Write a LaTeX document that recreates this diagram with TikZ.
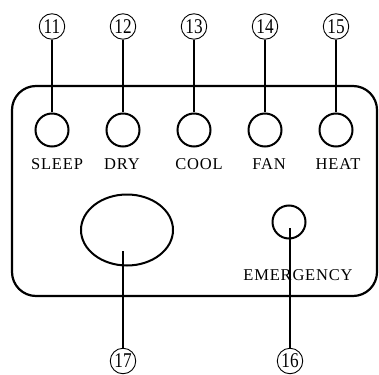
\documentclass[tikz,border=0pt]{standalone}
\usepackage{graphicx}
\usepackage{fontspec}
\setmainfont{Liberation Serif}
\newfontfamily\lblfont[LetterSpace=5]{Liberation Serif}
\usetikzlibrary{shapes.geometric}

\begin{document}
\begin{tikzpicture}[x=1pt, y=-1pt,
    numcirc/.style={draw, circle, line width=0.9pt, minimum size=25.5pt, inner sep=0pt,
                    font=\fontsize{21}{21}\selectfont},
    btn/.style={draw, circle, line width=2pt, minimum size=33pt, inner sep=0pt},
    lbl/.style={font=\lblfont\fontsize{16.5}{18}\selectfont, inner sep=0pt},
    leader/.style={line width=1.1pt}
]
  \useasboundingbox (0,0) rectangle (379,374);

  % panel outline
  \draw[line width=2.2pt, rounded corners=24pt] (12,86) rectangle (377,296);

  % mode buttons with their callouts
  \foreach \i/\x/\lx/\name in {11/52/57/SLEEP, 12/123/122/DRY, 13/194/199/COOL,
                               14/265/269/FAN, 15/336/338/HEAT}
  {
    \node[numcirc] (n\i) at (\x,26.5) {\scalebox{0.82}[1]{\i}};
    \node[btn]     (b\i) at (\x,130)  {};
    \node[lbl]     (l\i) at (\lx,164) {\name};
    \draw[leader] (n\i) -- (b\i);
  }

  % knob and emergency switch
  \node[draw, ellipse, line width=2pt, minimum width=92pt, minimum height=71pt,
        inner sep=0pt] (knob) at (127,230) {};
  \node[btn] (emerg) at (289,222) {};
  \node[lbl] (emlbl) at (298,275) {EMERGENCY};

  \node[numcirc] (n17) at (123,361) {\scalebox{0.82}[1]{17}};
  \node[numcirc] (n16) at (290,361) {\scalebox{0.82}[1]{16}};
  \coordinate (p17) at (123,251);
  \coordinate (p16) at (290,228);
  \draw[leader] (p17) -- (n17);
  \draw[leader] (p16) -- (n16);
\end{tikzpicture}
\end{document}
